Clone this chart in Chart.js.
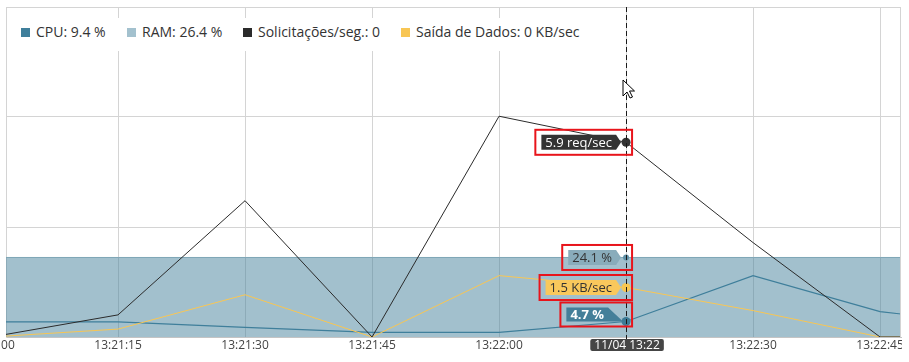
<!DOCTYPE html>
<html>
<head>
<meta charset="utf-8">
<script src="https://cdn.jsdelivr.net/npm/chart.js@4"></script>
<style>
html, body { margin: 0; padding: 0; background: #fff; overflow: hidden; }
#wrap { position: relative; width: 909px; height: 362px; }
#box { position: absolute; left: 0; top: 0; width: 902px; height: 362px; }
#legend { position: absolute; left: 8px; top: 18px; width: 585px; height: 33px; background: #fff;
  font: 14px "Open Sans", sans-serif; color: #333; }
#legend .item { position: absolute; top: 0; line-height: 27px; white-space: nowrap; }
#legend .item i { display: inline-block; width: 9px; height: 9px; margin-right: 6px; }
</style>
</head>
<body>
<div id="wrap">
  <div id="box"><canvas id="myChart"></canvas></div>
  <div id="legend"></div>
</div>
<script>
// sample times, seconds after 13:21:00
const seconds = [0, 15, 30, 45, 60, 75, 90, 105, 120];
const cpu = [4.6, 4.6, 2.9, 1.4, 1.4, 4.7, 18.6, 7.7, 3.3];
const ram = [24.1, 24.1, 24.1, 24.1, 24.1, 24.1, 24.1, 24.1, 24.1];
const req = [0, 0.67, 4.13, 0, 6.69, 5.9, 2.86, 0, 0];
const kb = [0, 0.24, 1.28, 0, 1.86, 1.5, 0.8, 0, 0];
const tickSeconds = [0, 15, 30, 45, 60, 75, 90, 105];
const legendLabels = ['CPU: 9.4 %', 'RAM: 26.4 %', 'Solicitações/seg.: 0', 'Saída de Dados: 0 KB/sec'];
const hoverIndex = 5;
const hoverLabel = '11/04 13:22';

const colors = {
    cpu: '#3f7f9b',
    ram: '#a3c1ce',
    req: '#2b2b2b',
    kb: '#f8c654'
};

function fmt(s) {
    const t = 13 * 3600 + 21 * 60 + Math.round(s);
    const p = n => String(n).padStart(2, '0');
    return p(Math.floor(t / 3600)) + ':' + p(Math.floor(t / 60) % 60) + ':' + p(t % 60);
}

// legend
const legendX = [13, 119, 235, 393];
const legendColors = [colors.cpu, colors.ram, colors.req, colors.kb];
const legend = document.getElementById('legend');
legendLabels.forEach((txt, i) => {
    const el = document.createElement('span');
    el.className = 'item';
    el.style.left = legendX[i] + 'px';
    el.innerHTML = '<i style="background:' + legendColors[i] + '"></i>' + txt;
    legend.appendChild(el);
});

const pts = arr => seconds.map((s, i) => ({ x: s, y: arr[i] }));
const hoverRadius = r => ctx => ctx.dataIndex === hoverIndex ? r : 0;

function tipShape(ctx, x0, x1, top, bottom, tipX, tipY) {
    ctx.beginPath();
    ctx.moveTo(x0, top);
    ctx.lineTo(x1, top);
    ctx.lineTo(tipX, tipY);
    ctx.lineTo(x1, bottom);
    ctx.lineTo(x0, bottom);
    ctx.closePath();
    ctx.fill();
}

const overlay = {
    id: 'overlay',
    afterDatasetsDraw(chart) {
        const ctx = chart.ctx;
        const area = chart.chartArea;
        const px = chart.getDatasetMeta(0).data[hoverIndex].x;
        ctx.save();
        // right edge
        ctx.strokeStyle = '#d4d4d4';
        ctx.lineWidth = 1;
        ctx.beginPath();
        ctx.moveTo(Math.round(area.right) - 0.5, area.top);
        ctx.lineTo(Math.round(area.right) - 0.5, area.bottom);
        ctx.stroke();
        // crosshair
        ctx.strokeStyle = '#1a1a1a';
        ctx.setLineDash([5, 3]);
        ctx.beginPath();
        ctx.moveTo(Math.round(px) + 0.5, area.top);
        ctx.lineTo(Math.round(px) + 0.5, area.bottom + 2);
        ctx.stroke();
        ctx.restore();
    },
    afterDraw(chart) {
        const ctx = chart.ctx;
        const area = chart.chartArea;
        ctx.save();
        ctx.textBaseline = 'middle';
        const tips = [
            { ds: 2, text: req[hoverIndex].toFixed(1) + ' req/sec', bg: '#333333', fg: '#ffffff' },
            { ds: 1, text: ram[hoverIndex].toFixed(1) + ' %', bg: '#89acbb', fg: '#333333' },
            { ds: 3, text: kb[hoverIndex].toFixed(1) + ' KB/sec', bg: '#f9c85c', fg: '#333333' },
            { ds: 0, text: cpu[hoverIndex].toFixed(1) + ' %', bg: '#447f99', fg: '#ffffff', bold: true, above: true }
        ];
        tips.forEach(t => {
            const el = chart.getDatasetMeta(t.ds).data[hoverIndex];
            ctx.font = (t.bold ? 'bold ' : '') + '13px "Open Sans"';
            const w = ctx.measureText(t.text).width + 8;
            let left, top, bottom;
            ctx.fillStyle = t.bg;
            if (t.above) {
                const right = el.x - 18;
                left = right - w;
                bottom = el.y;
                top = bottom - 14;
                ctx.beginPath();
                ctx.moveTo(left, top);
                ctx.lineTo(right, top);
                ctx.lineTo(el.x - 3, bottom);
                ctx.lineTo(left, bottom);
                ctx.closePath();
                ctx.fill();
            } else {
                const right = el.x - 10;
                left = right - w;
                top = el.y - 7.5;
                bottom = el.y + 7.5;
                tipShape(ctx, left, right, top, bottom, el.x - 5, el.y);
            }
            ctx.fillStyle = t.fg;
            ctx.fillText(t.text, left + 4, (top + bottom) / 2 + 0.5);
            // red highlight frame
            ctx.strokeStyle = '#e8141b';
            ctx.lineWidth = 2;
            ctx.strokeRect(left - 6, top - 5, el.x + 6 - (left - 6), bottom - top + 10);
        });

        // crosshair time label
        const px = chart.getDatasetMeta(0).data[hoverIndex].x;
        ctx.font = '12px "Open Sans"';
        const lw = ctx.measureText(hoverLabel).width + 8;
        ctx.fillStyle = '#454545';
        ctx.beginPath();
        ctx.roundRect(px - lw / 2 + 1, area.bottom + 2, lw, 12, 2);
        ctx.fill();
        ctx.fillStyle = '#ffffff';
        ctx.textAlign = 'center';
        ctx.fillText(hoverLabel, px + 1, area.bottom + 8.5);

        // mouse pointer
        const cx = 623, cy = 80;
        const arrow = [[0, 0], [0, 16], [4, 12], [7, 18], [9.5, 17], [6.5, 11], [11.5, 11]];
        ctx.beginPath();
        arrow.forEach(([dx, dy], i) => i ? ctx.lineTo(cx + dx, cy + dy) : ctx.moveTo(cx + dx, cy + dy));
        ctx.closePath();
        ctx.fillStyle = '#fff';
        ctx.fill();
        ctx.strokeStyle = '#000';
        ctx.lineWidth = 1;
        ctx.stroke();
        ctx.restore();
    }
};

const canvas = document.getElementById('myChart');
const config = {
    type: 'line',
    data: {
        datasets: [{
            label: 'CPU',
            data: pts(cpu),
            yAxisID: 'y',
            borderColor: colors.cpu,
            borderWidth: 1.2,
            pointRadius: hoverRadius(4.5),
            pointBackgroundColor: '#3d7b96',
            pointBorderWidth: 0,
            fill: false,
            order: 2
        }, {
            label: 'RAM',
            data: pts(ram),
            yAxisID: 'y',
            borderColor: '#7fa6b7',
            borderWidth: 1,
            backgroundColor: 'rgba(70,130,155,0.5)',
            pointRadius: hoverRadius(3),
            pointBackgroundColor: '#5f90a6',
            pointBorderWidth: 0,
            fill: 'origin',
            order: 3
        }, {
            label: 'Solicitações/seg.',
            data: pts(req),
            yAxisID: 'yReq',
            borderColor: colors.req,
            borderWidth: 1,
            pointRadius: hoverRadius(4.5),
            pointBackgroundColor: '#333',
            pointBorderWidth: 0,
            fill: false,
            order: 0
        }, {
            label: 'Saída de Dados',
            data: pts(kb),
            yAxisID: 'yKb',
            borderColor: colors.kb,
            borderWidth: 1,
            pointRadius: hoverRadius(4.5),
            pointBackgroundColor: '#f9c74f',
            pointBorderWidth: 0,
            fill: false,
            order: 1
        }]
    },
    options: {
        responsive: true,
        maintainAspectRatio: false,
        animation: false,
        events: [],
        layout: {
            autoPadding: false,
            padding: { left: 6, right: 1, top: 7, bottom: 0 }
        },
        plugins: {
            legend: { display: false },
            tooltip: { enabled: false }
        },
        elements: { line: { tension: 0 } },
        scales: {
            x: {
                type: 'linear',
                min: 1.77,
                max: 107.47,
                afterBuildTicks: sc => { sc.ticks = tickSeconds.map(v => ({ value: v })); },
                afterFit: sc => { sc.height = 25; sc.paddingLeft = 0; sc.paddingRight = 0; },
                ticks: {
                    autoSkip: false,
                    maxRotation: 0,
                    padding: 1,
                    color: '#444',
                    font: { family: 'Open Sans', size: 12 },
                    callback: v => fmt(v)
                },
                grid: { color: '#d4d4d4', drawTicks: false },
                border: { color: '#c4c4c4' }
            },
            y: {
                min: 0,
                max: 100,
                afterBuildTicks: sc => { sc.ticks = [0, 100 / 3, 200 / 3, 100].map(v => ({ value: v })); },
                afterFit: sc => { sc.width = 0; },
                ticks: { display: false },
                grid: { color: '#d4d4d4', drawTicks: false },
                border: { color: '#d4d4d4' }
            },
            yReq: { display: false, min: 0, max: 10 },
            yKb: { display: false, min: 0, max: 10 }
        }
    },
    plugins: [overlay]
};

new Chart(canvas, config);
</script>
</body>
</html>
